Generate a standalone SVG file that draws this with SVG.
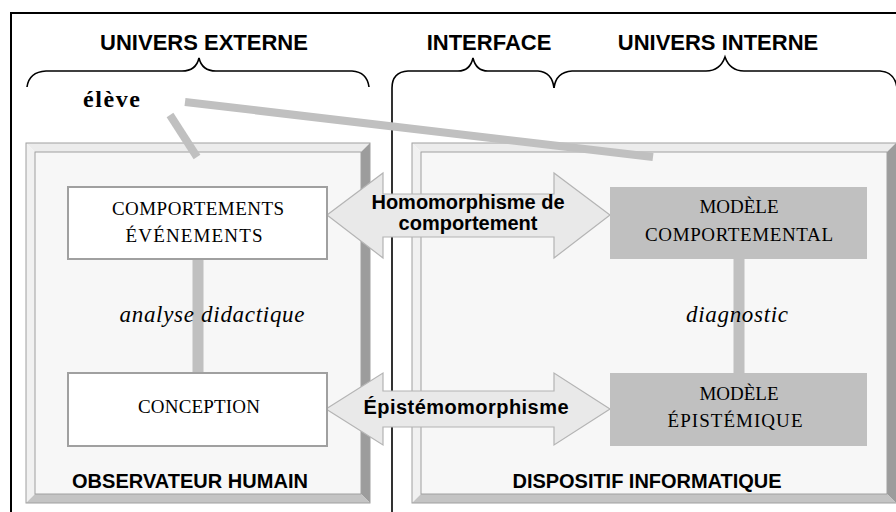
<svg xmlns="http://www.w3.org/2000/svg" width="896" height="512" viewBox="0 0 896 512">
<style>
.hdr{font-family:"Liberation Sans",Arial,sans-serif;font-weight:bold;font-size:22px;fill:#000;text-anchor:middle}
.lbl{font-family:"Liberation Sans",Arial,sans-serif;font-weight:bold;font-size:20px;fill:#000;text-anchor:middle}
.box{font-family:"Liberation Serif","Times New Roman",serif;font-size:19px;fill:#000;text-anchor:middle}
.ital{font-family:"Liberation Serif","Times New Roman",serif;font-style:italic;font-size:23px;fill:#000;text-anchor:middle}
.brace{fill:none;stroke:#000;stroke-width:1.6}
.conn{stroke:#c0c0c0;fill:none}
.arrow{fill:#e9e9e9;stroke:#b4b4b4;stroke-width:1.2}
.edge{fill:none;stroke:#a0a0a0;stroke-width:1}
</style>
<rect width="896" height="512" fill="#fff"/>
<!-- outer frame -->
<path d="M11,512 V13 H896" fill="none" stroke="#000" stroke-width="2"/>
<!-- braces -->
<g id="braces">
<path class="brace" d="M27,87 Q29,72 46,71 H182 Q196,71 199,58 Q202,71 216,71 H352 Q367,72 369,87"/>
<path class="brace" d="M392,512 V88 Q392,72 408,71 H458 Q470,71 473,58 Q476,71 488,71 H538 Q552,72 554,88"/>
<path class="brace" d="M554,88 Q556,72 572,71 H706 Q720,71 725,57 Q730,71 744,71 H880 Q895,72 897,88"/>
</g>
<g id="headers">
<text class="hdr" x="204" y="50">UNIVERS EXTERNE</text>
<text class="hdr" x="489" y="50">INTERFACE</text>
<text class="hdr" x="718" y="50">UNIVERS INTERNE</text>
</g>
<!-- left panel -->
<g id="observateur">
<polygon points="26,143 370,143 361,152 35,152" fill="#ececec"/>
<polygon points="26,143 35,152 35,494 26,503" fill="#f1f1f1"/>
<polygon points="370,143 370,503 361,494 361,152" fill="#9c9c9c"/>
<polygon points="26,503 370,503 361,494 35,494" fill="#c4c4c4"/>
<rect x="35" y="152" width="326" height="342" fill="#f7f7f7"/>
<rect class="edge" x="26" y="143" width="344" height="360"/>
<rect class="edge" x="35" y="152" width="326" height="342"/>
<text class="lbl" x="190" y="488" textLength="236">OBSERVATEUR HUMAIN</text>
</g>
<!-- right panel -->
<g id="dispositif">
<polygon points="412,143 896,143 887,152 421,152" fill="#ececec"/>
<polygon points="412,143 421,152 421,494 412,503" fill="#f1f1f1"/>
<polygon points="896,143 896,503 887,494 887,152" fill="#9c9c9c"/>
<polygon points="412,503 896,503 887,494 421,494" fill="#c4c4c4"/>
<rect x="421" y="152" width="466" height="342" fill="#f7f7f7"/>
<rect class="edge" x="412" y="143" width="490" height="360"/>
<rect class="edge" x="421" y="152" width="466" height="342"/>
<text class="lbl" x="647" y="488" textLength="269">DISPOSITIF INFORMATIQUE</text>
</g>
<!-- connectors -->
<g id="connectors">
<line class="conn" x1="185" y1="102" x2="653" y2="157" stroke-width="8"/>
<line class="conn" x1="170" y1="115" x2="197" y2="157" stroke-width="8"/>
<line class="conn" x1="198" y1="259" x2="198" y2="373" stroke-width="11"/>
<line class="conn" x1="739" y1="259" x2="739" y2="373" stroke-width="11"/>
<polygon class="arrow" points="327,215 383,173 383,194 554,194 554,173 610,215 554,258 554,237 383,237 383,258"/>
<polygon class="arrow" points="326,409 383,373 383,391 554,391 554,373 610,409 554,445 554,427 383,427 383,445"/>
</g>
<g id="eleve">
<text x="83" y="107" font-family="'Liberation Serif','Times New Roman',serif" font-weight="bold" font-size="24" textLength="57">élève</text>
</g>
<g id="comportements">
<rect x="68" y="187" width="259" height="72" fill="#fff" stroke="#a0a0a0" stroke-width="2"/>
<text class="box" x="198" y="215" textLength="172">COMPORTEMENTS</text>
<text class="box" x="194" y="242" textLength="137">ÉVÉNEMENTS</text>
</g>
<g id="conception">
<rect x="68" y="373" width="259" height="73" fill="#fff" stroke="#a0a0a0" stroke-width="2"/>
<text class="box" x="199" y="413" textLength="122">CONCEPTION</text>
</g>
<g id="modele-comportemental">
<rect x="610" y="187" width="257" height="72" fill="#c0c0c0"/>
<text class="box" x="739" y="213" textLength="79">MODÈLE</text>
<text class="box" x="739" y="241" textLength="188">COMPORTEMENTAL</text>
</g>
<g id="modele-epistemique">
<rect x="610" y="373" width="257" height="73" fill="#c0c0c0"/>
<text class="box" x="739" y="400" textLength="79">MODÈLE</text>
<text class="box" x="735" y="427" textLength="135">ÉPISTÉMIQUE</text>
</g>
<g id="labels">
<text class="lbl" x="468" y="209" textLength="193">Homomorphisme de</text>
<text class="lbl" x="468" y="230">comportement</text>
<text class="lbl" x="466" y="414" textLength="205">Épistémomorphisme</text>
<text class="ital" x="212" y="322" textLength="185">analyse didactique</text>
<text class="ital" x="737" y="322" textLength="102">diagnostic</text>
</g>
</svg>
